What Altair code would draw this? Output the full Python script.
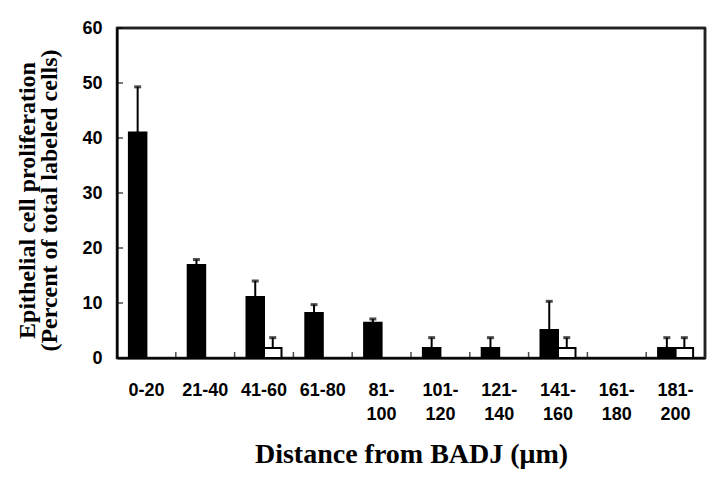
import altair as alt
import pandas as pd

categories = ["0-20", "21-40", "41-60", "61-80", "81-100",
              "101-120", "121-140", "141-160", "161-180", "181-200"]
black_values = [41.0, 16.9, 11.1, 8.2, 6.4, 1.8, 1.8, 5.1, 0.0, 1.8]
black_errors = [8.3, 1.0, 2.9, 1.5, 0.7, 1.9, 1.9, 5.2, 0.0, 1.9]
white_values = [0.0, 0.0, 1.8, 0.0, 0.0, 0.0, 0.0, 1.8, 0.0, 1.8]
white_errors = [0.0, 0.0, 1.9, 0.0, 0.0, 0.0, 0.0, 1.9, 0.0, 1.9]
y_ticks = [0, 10, 20, 30, 40, 50, 60]

rows = []
for c, v, e in zip(categories, black_values, black_errors):
    rows.append({"cat": c, "group": "A", "value": v, "err": e, "upper": v + e})
for c, v, e in zip(categories, white_values, white_errors):
    rows.append({"cat": c, "group": "B", "value": v, "err": e, "upper": v + e})
df = pd.DataFrame(rows)

tick_df = pd.DataFrame({"cat": categories})
ytick_df = pd.DataFrame({"value": y_ticks[1:]})
frame_df = pd.DataFrame({"frame": [1]})

LABEL_FONT = "Liberation Sans"
TITLE_FONT = "Liberation Serif"
PLOT_W = 588
PLOT_H = 330

x_scale = alt.Scale(domain=categories, paddingInner=0, paddingOuter=0)
y_scale = alt.Scale(domain=[0, 60], nice=False)
off_scale = alt.Scale(domain=["A", "B"], paddingInner=0, paddingOuter=0.68)

x_axis = alt.Axis(
    title="Distance from BADJ (μm)",
    titleFont=TITLE_FONT, titleFontSize=28, titleFontWeight="bold",
    titleColor="black", titlePadding=17,
    labelFont=LABEL_FONT, labelFontSize=18, labelFontWeight="bold",
    labelColor="black", labelAngle=0, labelPadding=23, labelLineHeight=24,
    labelExpr="length(datum.label) > 5 ? [split(datum.label, '-')[0] + '-', split(datum.label, '-')[1]] : datum.label",
    ticks=False, domainColor="black", domainWidth=2,
)
y_axis = alt.Axis(
    title=["Epithelial cell proliferation", "(Percent of total labeled cells)"],
    titleFont=TITLE_FONT, titleFontSize=24, titleFontWeight="bold",
    titleColor="black", titlePadding=20, titleLineHeight=22, titleY=172,
    labelFont=LABEL_FONT, labelFontSize=18, labelFontWeight="bold",
    labelColor="black", labelPadding=15,
    values=y_ticks, ticks=False, grid=False,
    domainColor="black", domainWidth=2,
)

base = alt.Chart(df)

bars = base.transform_filter("datum.value > 0").mark_bar(
    stroke="black", strokeWidth=2
).encode(
    x=alt.X("cat:N", scale=x_scale, axis=x_axis, sort=categories),
    xOffset=alt.XOffset("group:N", scale=off_scale),
    y=alt.Y("value:Q", scale=y_scale, axis=y_axis),
    fill=alt.Fill("group:N", scale=alt.Scale(domain=["A", "B"], range=["black", "white"]), legend=None),
)

err_rules = base.transform_filter("datum.err > 0").mark_rule(
    color="black", strokeWidth=2
).encode(
    x=alt.X("cat:N", scale=x_scale, sort=categories),
    xOffset=alt.XOffset("group:N", scale=off_scale),
    y=alt.Y("value:Q", scale=y_scale),
    y2="upper:Q",
)

err_caps = base.transform_filter("datum.err > 0").mark_tick(
    color="black", orient="horizontal", size=7, thickness=3
).encode(
    x=alt.X("cat:N", scale=x_scale, sort=categories),
    xOffset=alt.XOffset("group:N", scale=off_scale),
    y=alt.Y("upper:Q", scale=y_scale),
)

x_ticks = alt.Chart(tick_df).transform_filter("datum.cat != '0-20'").mark_tick(
    color="black", orient="vertical", size=6, thickness=1.5, yOffset=-3
).encode(
    x=alt.X("cat:N", scale=x_scale, sort=categories, bandPosition=0),
    y=alt.datum(0),
)

y_tick_marks = alt.Chart(ytick_df).mark_tick(
    color="black", orient="horizontal", size=6, thickness=1.5, xOffset=3
).encode(
    x=alt.value(0),
    y=alt.Y("value:Q", scale=y_scale),
)

top_border = alt.Chart(frame_df).mark_rule(color="#222222", strokeWidth=2.5).encode(
    x=alt.value(0), x2=alt.value(PLOT_W), y=alt.value(0),
)
right_border = alt.Chart(frame_df).mark_rule(color="#222222", strokeWidth=2.5).encode(
    x=alt.value(PLOT_W), y=alt.value(0), y2=alt.value(PLOT_H),
)

chart = alt.layer(
    top_border, right_border, bars, err_rules, err_caps, x_ticks, y_tick_marks
).properties(
    width=PLOT_W,
    height=PLOT_H,
    autosize=alt.AutoSizeParams(type="none"),
    padding={"left": 109, "top": 20, "right": 7, "bottom": 123},
).configure_view(
    stroke="#222222", strokeWidth=2.5
)

chart.save("out.html", embed_options={"renderer": "svg", "actions": False})
